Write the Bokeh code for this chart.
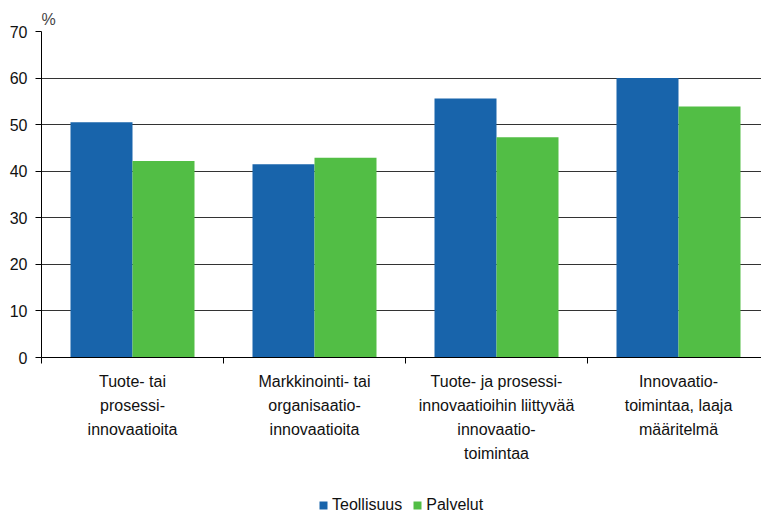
from bokeh.plotting import figure
from bokeh.layouts import column
from bokeh.models import (Range1d, FixedTicker, Legend, LegendItem, ColumnDataSource)
from bokeh.embed import file_html
from bokeh.resources import INLINE

categories = [
    "Tuote- tai\nprosessi-\ninnovaatioita",
    "Markkinointi- tai\norganisaatio-\ninnovaatioita",
    "Tuote- ja prosessi-\ninnovaatioihin liittyvää\ninnovaatio-\ntoimintaa",
    "Innovaatio-\ntoimintaa, laaja\nmääritelmä",
]
teollisuus = [50.5, 41.5, 55.6, 60.0]
palvelut = [42.2, 42.9, 47.3, 53.9]
y_ticks = [0, 10, 20, 30, 40, 50, 60, 70]
series_names = ["Teollisuus", "Palvelut"]

BLUE = "#1864AB"
GREEN = "#52BE45"
FONT = "Liberation Sans"

W, H = 761, 515
LEG_H = 30
left, top = 41, 31
frame_w = W - left
frame_h = 326
bottom = H - LEG_H - top - frame_h
cat_px = 182.0
bw = 62.0 / cat_px

p = figure(frame_width=frame_w, frame_height=frame_h,
           output_backend="svg", toolbar_location=None,
           x_range=Range1d(0, frame_w / cat_px), y_range=Range1d(0, 70),
           min_border_left=left, min_border_right=0, min_border_top=top,
           min_border_bottom=bottom)
p.outline_line_color = None
p.background_fill_color = "white"

centers = [i + 0.5 for i in range(len(categories))]
src = ColumnDataSource(dict(
    xb=[c - bw / 2 for c in centers],
    xg=[c + bw / 2 for c in centers],
    t=teollisuus, pv=palvelut))

rb = p.vbar(x="xb", top="t", width=bw, bottom=0, source=src,
            fill_color=BLUE, line_color=None)
rg = p.vbar(x="xg", top="pv", width=bw, bottom=0, source=src,
            fill_color=GREEN, line_color=None)

# grid
p.xgrid.visible = False
p.ygrid.ticker = FixedTicker(ticks=y_ticks)
p.ygrid.grid_line_color = "#333333"
p.ygrid.grid_line_width = 1

# y axis
ya = p.yaxis[0]
ya.ticker = FixedTicker(ticks=y_ticks)
ya.axis_line_color = "black"
ya.major_tick_line_color = "black"
ya.major_tick_in = 0
ya.major_tick_out = 6
ya.minor_tick_line_color = None
ya.major_label_standoff = 8
ya.major_label_text_font = FONT
ya.major_label_text_font_size = "16px"
ya.major_label_text_color = "#111111"

# x axis
xa = p.xaxis[0]
xa.ticker = FixedTicker(ticks=centers, minor_ticks=[0, 1, 2, 3])
xa.major_label_overrides = {c: lab for c, lab in zip(centers, categories)}
xa.axis_line_color = "black"
xa.major_tick_line_color = None
xa.major_tick_in = 0
xa.major_tick_out = 0
xa.minor_tick_line_color = "black"
xa.minor_tick_in = 0
xa.minor_tick_out = 6
xa.major_label_standoff = 9
xa.major_label_text_font = FONT
xa.major_label_text_font_size = "16px"
xa.major_label_text_line_height = 1.42
xa.major_label_text_color = "#111111"

# "%" title
p.title.text = "%"
p.title.text_font = FONT
p.title.text_font_size = "16px"
p.title.text_font_style = "normal"
p.title.align = "left"
p.title.standoff = 8
p.title.offset = 0

# legend strip (swatch renderers sit fully outside the strip's visible ranges)
p2 = figure(width=W, height=LEG_H, output_backend="svg", toolbar_location=None,
            x_range=Range1d(0, 1), y_range=Range1d(0, 1),
            x_axis_type=None, y_axis_type=None,
            min_border_left=0, min_border_right=0, min_border_top=0,
            min_border_bottom=0)
p2.outline_line_color = None
p2.background_fill_color = None
p2.border_fill_color = None
p2.xgrid.visible = False
p2.ygrid.visible = False
lb = p2.vbar(x=[-5], top=[-5], bottom=-6, width=0.1, fill_color=BLUE, line_color=None)
lg = p2.vbar(x=[-5], top=[-5], bottom=-6, width=0.1, fill_color=GREEN, line_color=None)

legend = Legend(items=[LegendItem(label=series_names[0], renderers=[lb], index=0),
                       LegendItem(label=series_names[1], renderers=[lg], index=0)],
                orientation="horizontal", location=(277, 1))
legend.glyph_width = 10
legend.glyph_height = 10
legend.label_height = 18
legend.label_text_font = FONT
legend.label_text_font_size = "16px"
legend.label_text_color = "#111111"
legend.label_standoff = 4
legend.spacing = 10
legend.border_line_color = None
legend.background_fill_alpha = 0
legend.padding = 0
legend.margin = 0
p2.add_layout(legend, "center")

layout = column(p, p2, spacing=0)
open("out.html", "w").write(file_html(layout, INLINE))
